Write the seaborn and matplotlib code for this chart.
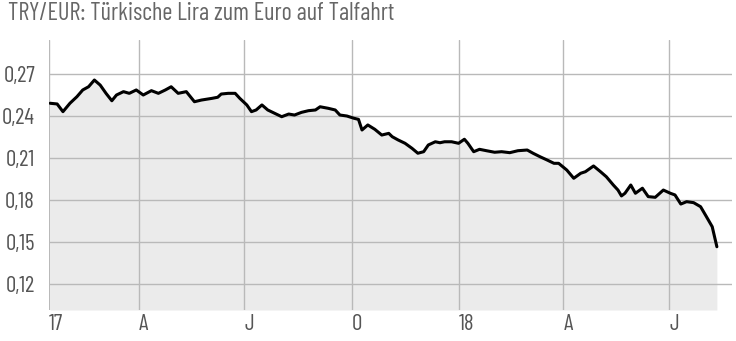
import numpy as np
import pandas as pd
import matplotlib
matplotlib.use("Agg")
import matplotlib.pyplot as plt
import seaborn as sns

# Data: day offset from 2017-01-01 and TRY/EUR rate
days_since_2017 = [14, 20, 25, 31, 37, 42, 47, 52, 57, 62, 67, 71, 77, 82, 88, 94, 101, 107, 113, 118,
                   124, 131, 138, 144, 153, 158, 161, 167, 173, 177, 183, 187, 191, 196, 201, 207, 213,
                   219, 224, 230, 236, 242, 246, 253, 259, 263, 269, 275, 279, 282, 287, 293, 299, 305,
                   308, 313, 319, 325, 330, 335, 339, 345, 349, 353, 359, 365, 370, 373, 378, 383, 389,
                   396, 402, 409, 416, 424, 429, 435, 441, 447, 451, 458, 464, 470, 474, 481, 487, 492,
                   498, 502, 505, 508, 513, 517, 523, 528, 534, 541, 547, 551, 556, 561, 567, 573, 578,
                   583, 587]
rate = [0.2491, 0.2486, 0.2431, 0.2491, 0.2538, 0.2586, 0.2609, 0.2657, 0.2621, 0.2562, 0.2509, 0.2550,
        0.2574, 0.2562, 0.2586, 0.2550, 0.2581, 0.2562, 0.2586, 0.2609, 0.2562, 0.2574, 0.2502, 0.2514,
        0.2526, 0.2534, 0.2557, 0.2562, 0.2562, 0.2526, 0.2479, 0.2431, 0.2443, 0.2479, 0.2443, 0.2419,
        0.2395, 0.2414, 0.2407, 0.2426, 0.2438, 0.2443, 0.2466, 0.2455, 0.2443, 0.2407, 0.2400, 0.2384,
        0.2376, 0.2300, 0.2336, 0.2305, 0.2264, 0.2276, 0.2252, 0.2229, 0.2205, 0.2169, 0.2134, 0.2145,
        0.2193, 0.2216, 0.2209, 0.2216, 0.2216, 0.2205, 0.2234, 0.2205, 0.2145, 0.2162, 0.2152, 0.2141,
        0.2145, 0.2138, 0.2152, 0.2157, 0.2134, 0.2109, 0.2086, 0.2062, 0.2062, 0.2014, 0.1955, 0.1991,
        0.2002, 0.2043, 0.2002, 0.1966, 0.1907, 0.1871, 0.1829, 0.1848, 0.1907, 0.1848, 0.1884, 0.1824,
        0.1819, 0.1871, 0.1848, 0.1836, 0.1771, 0.1788, 0.1781, 0.1752, 0.1681, 0.1609, 0.1466]

tick_dates = ["2017-01-14", "2017-04-01", "2017-07-01", "2017-10-01", "2018-01-01", "2018-04-01", "2018-07-01"]
tick_labels = ["17", "A", "J", "O", "18", "A", "J"]
y_ticks = [0.12, 0.15, 0.18, 0.21, 0.24, 0.27]
title = "TRY/EUR: Türkische Lira zum Euro auf Talfahrt"

sns.set_theme(style="white")
plt.rcParams["font.family"] = ["Barlow Condensed", "DejaVu Sans"]

df = pd.DataFrame({
    "date": pd.Timestamp("2017-01-01") + pd.to_timedelta(days_since_2017, unit="D"),
    "rate": rate,
})

fig = plt.figure(figsize=(7.36, 3.41), dpi=100)
ax = fig.add_axes([49 / 736, 31 / 341, 683 / 736, 270 / 341])

ymin, ymax = 0.1014, 0.2943
ax.fill_between(df["date"], df["rate"], ymin, color="#ebebeb", lw=0, zorder=1)
sns.lineplot(data=df, x="date", y="rate", ax=ax, color="black", lw=2.2, zorder=4)

ax.set_xlim(pd.Timestamp("2017-01-14"), pd.Timestamp("2018-08-24"))
ax.set_ylim(ymin, ymax)

ax.set_xticks(pd.to_datetime(tick_dates))
ax.set_xticklabels(tick_labels, ha="left")
ax.set_yticks(y_ticks)
ax.set_yticklabels([f"{v:.2f}".replace(".", ",") for v in y_ticks])

ax.grid(True, color="#b9b9b9", lw=1.0, zorder=2)
ax.set_axisbelow(False)
for s in ax.spines.values():
    s.set_visible(False)
ax.tick_params(axis="both", length=0, colors="#555555", labelsize=16.5)
ax.tick_params(axis="y", pad=10)
ax.tick_params(axis="x", pad=3)
ax.set_xlabel("")
ax.set_ylabel("")
ax.set_facecolor("white")

fig.text(8 / 736, 1 - 20 / 341, title, ha="left", va="baseline", fontsize=17.5, color="#666666")

fig.savefig("out.png", dpi=100)
